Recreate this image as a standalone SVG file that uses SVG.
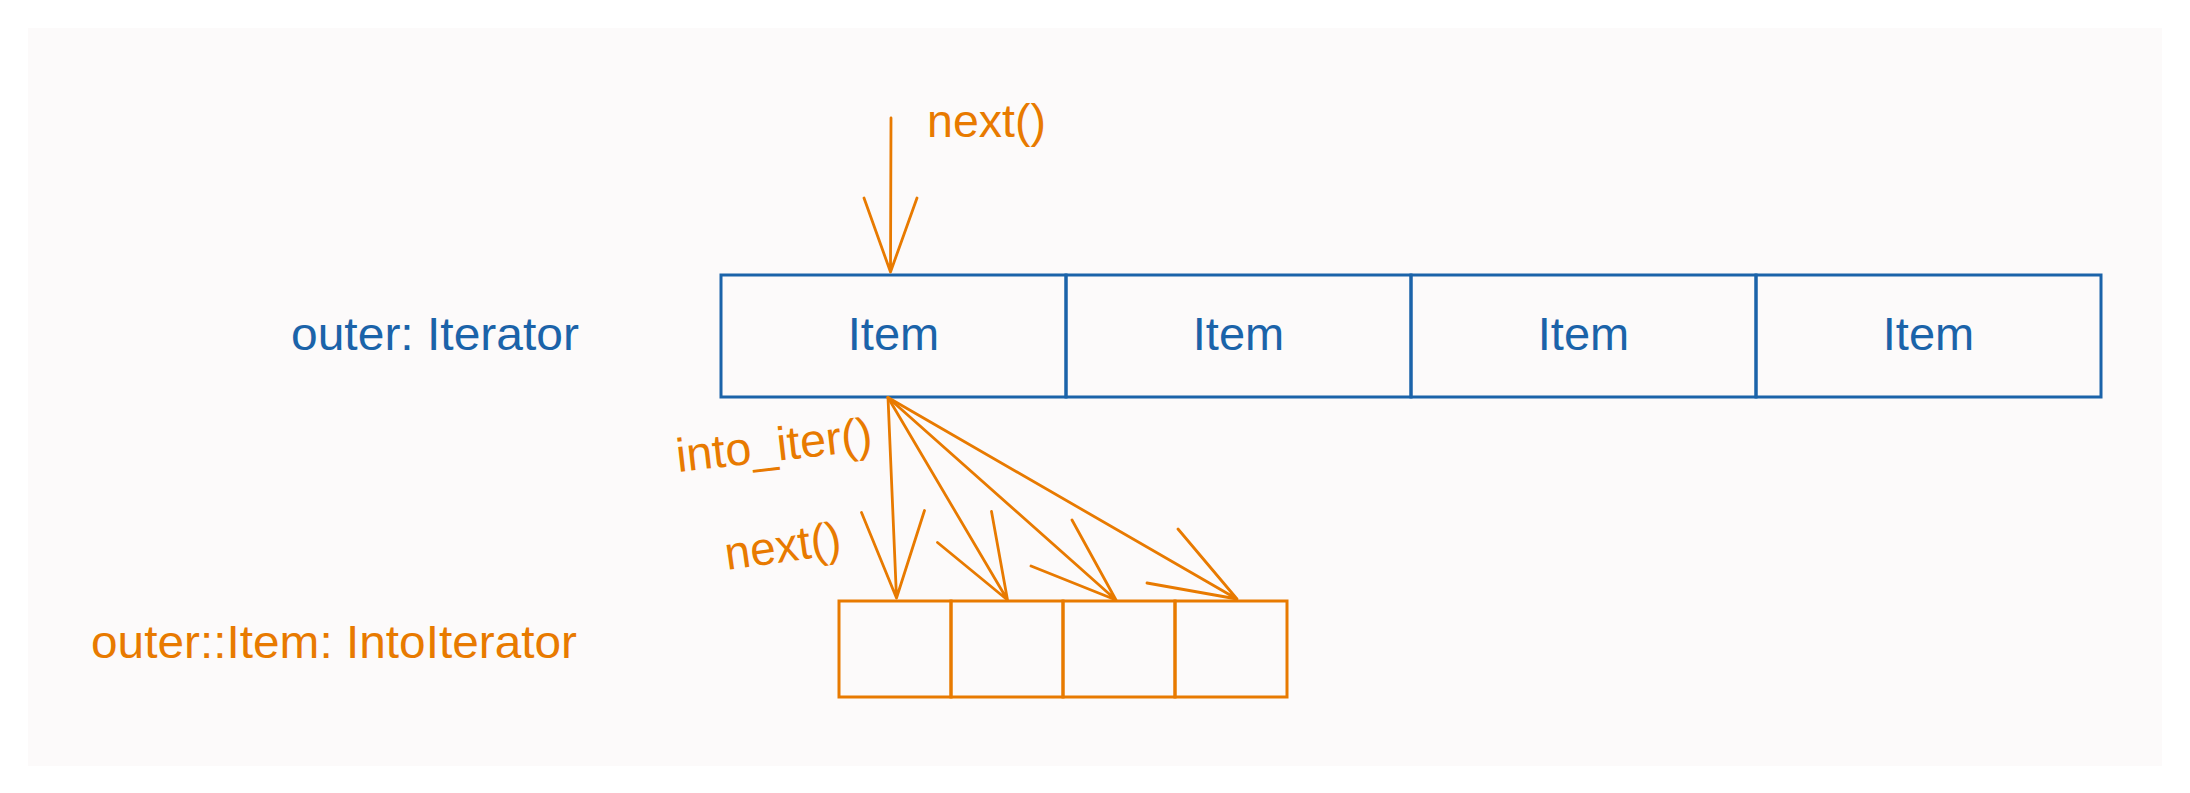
<svg xmlns="http://www.w3.org/2000/svg" width="2190" height="793" viewBox="0 0 2190 793">
<style>
.bg{fill:#fcfafa}
.cell{fill:none;stroke:#1b63a9;stroke-width:3}
.sub{fill:none;stroke:#e87a00;stroke-width:3}
.ln{fill:none;stroke:#e87a00;stroke-width:2.8;stroke-linecap:round;stroke-linejoin:round}
.tb{font-family:"Liberation Sans",Arial,sans-serif;font-size:47px;fill:#1b63a9}
.to{font-family:"Liberation Sans",Arial,sans-serif;font-size:47px;fill:#e87a00}
</style>
<rect width="2190" height="793" fill="#ffffff"/>
<rect class="bg" x="28" y="28" width="2134" height="738"/>
<g id="label-outer">
<text class="tb" x="291" y="350" textLength="288" lengthAdjust="spacingAndGlyphs">outer: Iterator</text>
</g>
<g id="label-inner">
<text class="to" x="91" y="658" textLength="486" lengthAdjust="spacingAndGlyphs">outer::Item: IntoIterator</text>
</g>
<g id="outer-items">
<g id="item1"><rect class="cell" x="721" y="275" width="345" height="122"/><text class="tb" x="893.5" y="350" text-anchor="middle">Item</text></g>
<g id="item2"><rect class="cell" x="1066" y="275" width="345" height="122"/><text class="tb" x="1238.5" y="350" text-anchor="middle">Item</text></g>
<g id="item3"><rect class="cell" x="1411" y="275" width="345" height="122"/><text class="tb" x="1583.5" y="350" text-anchor="middle">Item</text></g>
<g id="item4"><rect class="cell" x="1756" y="275" width="345" height="122"/><text class="tb" x="1928.5" y="350" text-anchor="middle">Item</text></g>
</g>
<g id="inner-items">
<rect id="sub1" class="sub" x="839" y="601" width="112" height="96"/>
<rect id="sub2" class="sub" x="951" y="601" width="112" height="96"/>
<rect id="sub3" class="sub" x="1063" y="601" width="112" height="96"/>
<rect id="sub4" class="sub" x="1175" y="601" width="112" height="96"/>
</g>
<g id="connectors">
<path class="ln" d="M891 118 L890.5 272 M864 198 L890.5 272 L917 198"/>
<path class="ln" d="M888 397.5 L896.5 598 M861.5 512.5 L896.5 598 L924.5 510.5"/>
<path class="ln" d="M888 397.5 L1007.5 600 M937.5 542.5 L1007.5 600 L991.5 511.5"/>
<path class="ln" d="M888 397.5 L1116 600 M1031 566 L1116 600 L1072 520"/>
<path class="ln" d="M888 397.5 L1237 599 M1147 583 L1237 599 L1178 529"/>
</g>
<g id="connector-labels">
<text class="to" x="927" y="137" textLength="119" lengthAdjust="spacingAndGlyphs">next()</text>
<text class="to" x="678" y="472" transform="rotate(-6.5 678 472)" textLength="197" lengthAdjust="spacingAndGlyphs">into_iter()</text>
<text class="to" x="727" y="570" transform="rotate(-8 727 570)" textLength="117" lengthAdjust="spacingAndGlyphs">next()</text>
</g>
</svg>
